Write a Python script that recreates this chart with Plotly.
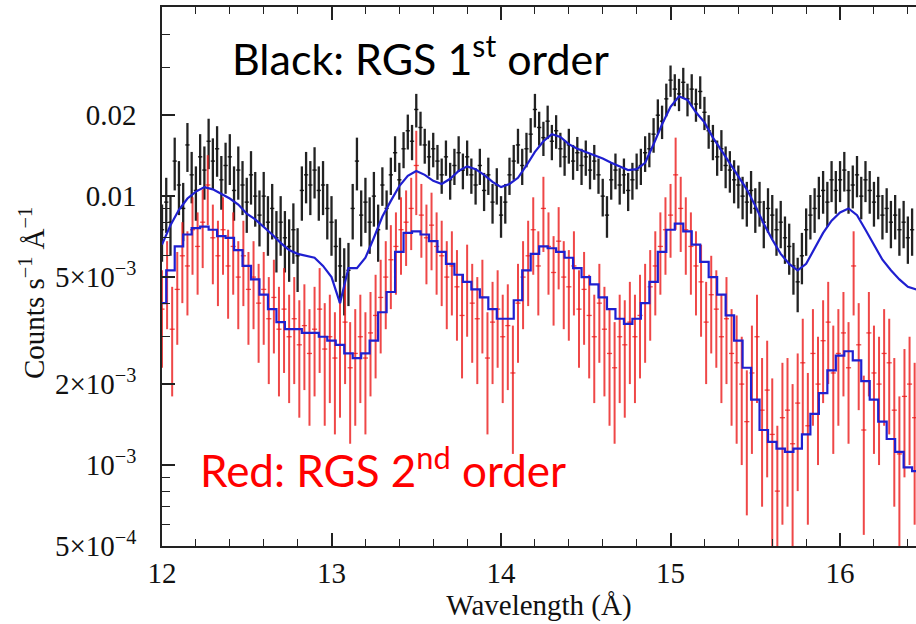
import numpy as np
import plotly.graph_objects as go

UNIT = 1e-3  # all rates below are in units of 1e-3 counts s^-1 A^-1

# ---------------- RGS 1st order (black) ----------------
rgs1_start, rgs1_step = 12.0, 0.025
rgs1_rate = [
    7.5, 9.5, 8.0, 13.5, 11.0, 9.0, 15.5, 12.0, 10.5, 14.0, 12.5, 16.0,
    13.5, 15.0, 11.5, 13.0, 14.0, 10.5, 12.5, 11.0, 9.5, 12.0, 10.0, 8.5,
    10.0, 8.0, 9.0, 7.0, 8.0, 7.0, 6.5, 7.5, 6.0, 10.5, 12.0, 11.0,
    12.5, 10.5, 11.0, 9.0, 8.0, 6.5, 5.5, 5.0, 5.3, 9.0, 13.5, 8.5,
    9.5, 8.0, 10.0, 7.5, 11.0, 9.0, 12.0, 14.5, 11.5, 15.0, 17.5, 16.0,
    21.0, 18.0, 15.5, 14.0, 15.0, 13.5, 12.0, 14.0, 11.5, 13.0, 14.5, 12.5,
    14.0, 12.0, 11.0, 13.0, 10.5, 12.0, 9.5, 11.0, 8.5, 9.5, 12.0, 13.5,
    15.5, 13.0, 15.0, 17.0, 21.0, 18.0, 16.5, 19.0, 16.0, 17.5, 15.0, 14.0,
    15.5, 13.5, 14.5, 13.0, 14.0, 12.5, 13.5, 12.0, 10.0, 8.5, 11.5, 12.5,
    11.0, 12.0, 10.5, 11.5, 12.5, 13.0, 14.5, 15.0, 17.0, 20.0, 19.0, 23.0,
    27.0, 25.0, 24.0, 26.5, 23.0, 25.0, 22.0, 24.5, 20.5, 17.5, 16.0, 14.0,
    15.0, 13.0, 12.5, 11.5, 11.0, 10.0, 9.5, 10.5, 9.0, 9.5, 8.0, 9.0,
    8.5, 7.5, 8.0, 7.0, 6.5, 5.5, 4.8, 6.0, 7.5, 8.5, 9.0, 10.0,
    10.5, 9.5, 11.5, 10.5, 11.5, 12.5, 10.5, 11.0, 12.0, 10.0, 11.5, 10.5,
    9.5, 10.0, 8.5, 9.0, 8.0, 8.5, 7.5, 8.0, 7.0, 7.5,
]
rgs1_err = [
    1.8, 2.2, 2.0, 3.0, 2.5, 2.2, 3.2, 2.6, 2.4, 3.0, 2.8, 3.4,
    2.9, 3.2, 2.6, 2.8, 3.0, 2.4, 2.8, 2.5, 2.2, 2.7, 2.3, 2.0,
    2.3, 2.0, 2.1, 1.8, 2.0, 1.8, 1.7, 1.9, 1.6, 2.4, 2.6, 2.5,
    2.7, 2.4, 2.5, 2.1, 2.0, 1.7, 1.5, 1.4, 1.4, 2.1, 3.0, 2.0,
    2.2, 1.9, 2.3, 1.8, 1.8, 1.5, 1.9, 2.2, 1.8, 2.3, 2.6, 2.4,
    3.0, 2.6, 2.3, 2.1, 2.2, 2.0, 1.8, 2.1, 1.8, 2.0, 2.2, 1.9,
    2.1, 1.8, 1.7, 2.0, 1.7, 1.9, 1.6, 1.7, 1.5, 1.6, 1.9, 2.0,
    2.3, 2.0, 2.2, 2.5, 3.0, 2.6, 2.4, 2.7, 2.4, 2.5, 2.2, 2.1,
    2.3, 2.0, 2.1, 2.0, 2.1, 1.9, 2.0, 1.8, 1.6, 1.5, 1.8, 1.9,
    1.7, 1.8, 1.7, 1.8, 1.9, 2.0, 2.2, 2.2, 2.5, 2.9, 2.7, 3.2,
    3.6, 3.4, 3.3, 3.5, 3.2, 3.4, 3.1, 3.4, 2.9, 2.5, 2.4, 2.1,
    2.6, 2.3, 2.2, 2.1, 2.0, 1.8, 1.8, 1.9, 1.7, 1.8, 1.6, 1.7,
    1.6, 1.5, 1.6, 1.4, 1.4, 1.2, 1.1, 1.3, 1.5, 1.6, 1.7, 1.8,
    1.9, 1.8, 2.0, 1.9, 2.0, 2.1, 1.9, 2.0, 2.1, 1.8, 2.0, 1.9,
    1.8, 1.8, 1.6, 1.7, 1.6, 1.6, 1.5, 1.6, 1.4, 1.5,
]

# ---------------- RGS 2nd order (red) ----------------
rgs2_start, rgs2_step = 12.0, 0.03
rgs2_rate = [
    3.8, 5.0, 3.2, 4.5, 6.0, 5.5, 7.5, 6.5, 8.0, 11.0,
    7.0, 6.0, 7.5, 5.5, 6.5, 5.0, 6.0, 4.5, 5.0, 4.0,
    4.5, 3.5, 4.2, 3.2, 3.8, 3.0, 3.5, 2.8, 3.3, 2.6,
    3.2, 3.8, 2.7, 3.0, 2.5, 2.8, 3.4, 2.3, 2.6, 3.0,
    2.5, 3.1, 3.6, 4.2, 5.0, 5.8, 6.5, 7.5, 8.0, 9.0,
    13.0, 8.5, 7.0, 7.8, 6.5, 6.0, 5.0, 5.5, 4.6, 3.6,
    4.8, 4.0, 3.5, 4.2, 2.5, 3.4, 3.8, 3.0, 3.3, 2.2,
    4.0, 5.0, 6.0, 7.5, 5.5, 9.0, 6.5, 5.2, 6.8, 5.0,
    4.6, 5.5, 3.8, 4.5, 3.6, 3.0, 4.0, 3.2, 2.6, 2.3,
    3.0, 2.8, 3.4, 3.0, 3.6, 4.0, 4.6, 5.5, 6.5, 7.5,
    8.5, 12.0, 9.0, 7.5, 6.5, 5.5, 4.8, 3.4, 4.3, 3.8,
    3.0, 3.5, 2.6, 2.4, 2.0, 1.45, 2.2, 3.0, 1.6, 1.9,
    1.3, 0.8, 1.5, 1.6, 1.2, 1.7, 2.4, 1.4, 2.6, 2.0,
    2.9, 3.4, 2.2, 2.6, 3.1, 2.3, 5.5, 2.8, 1.35, 3.1,
    2.2, 2.0, 2.6, 2.4, 1.6, 1.1, 1.8, 2.0, 1.5,
]
rgs2_err = [
    1.5, 1.8, 1.4, 1.7, 2.0, 1.9, 2.4, 2.2, 2.6, 3.2,
    2.3, 2.1, 2.4, 2.0, 2.2, 1.8, 2.1, 1.7, 1.8, 1.6,
    1.7, 1.5, 1.6, 1.4, 1.6, 1.3, 1.5, 1.3, 1.4, 1.2,
    1.4, 1.6, 1.3, 1.3, 1.2, 1.3, 1.4, 1.1, 1.2, 1.3,
    1.2, 1.3, 1.5, 1.6, 1.8, 2.0, 2.2, 2.4, 2.5, 2.7,
    4.5, 2.6, 2.3, 2.5, 2.2, 2.1, 1.8, 1.9, 1.7, 1.5,
    1.8, 1.6, 1.5, 1.6, 1.2, 1.4, 1.5, 1.3, 1.4, 1.1,
    1.6, 1.8, 2.1, 2.4, 1.9, 2.8, 2.2, 1.9, 2.3, 1.8,
    1.7, 1.9, 1.5, 1.7, 1.5, 1.3, 1.6, 1.4, 1.2, 1.1,
    1.3, 1.3, 1.4, 1.3, 1.5, 1.6, 1.7, 1.9, 2.2, 2.4,
    2.6, 4.5, 2.8, 2.4, 2.2, 1.9, 1.8, 1.4, 1.7, 1.5,
    1.3, 1.5, 1.2, 1.2, 1.0, 0.8, 1.1, 1.3, 0.9, 1.0,
    0.8, 0.6, 0.9, 0.9, 0.8, 0.9, 1.1, 0.8, 1.2, 1.0,
    1.2, 1.4, 1.1, 1.2, 1.3, 1.1, 1.9, 1.2, 0.8, 1.3,
    1.1, 1.0, 1.2, 1.1, 0.9, 0.7, 0.9, 1.0, 0.9,
]

# ---------------- best-fit models (blue) ----------------
model_start, model_step = 12.0, 0.05
model1 = [
    6.6, 7.8, 8.9, 9.8, 10.4, 10.8, 10.6, 10.2, 9.8, 9.3,
    8.6, 8.2, 7.7, 7.2, 6.7, 6.3, 6.1, 6.0, 5.9, 5.5,
    5.0, 4.0, 5.4, 5.4, 5.9, 7.0, 8.4, 9.6, 10.9, 11.9,
    12.4, 12.0, 11.4, 11.1, 11.6, 12.4, 12.9, 12.6, 12.0, 11.3,
    10.8, 11.1, 11.7, 13.0, 14.6, 16.0, 17.0, 16.6, 15.6, 15.0,
    14.6, 14.2, 13.8, 13.3, 12.9, 12.5, 12.6, 13.3, 15.6, 18.5,
    21.5, 23.5, 22.8, 20.5, 18.8, 16.5, 14.8, 13.2, 11.8, 10.6,
    9.2, 7.9, 6.9, 6.1, 5.6, 5.3, 5.6, 6.4, 7.3, 8.1,
    8.7, 9.0, 8.5, 7.5, 6.6, 5.8, 5.3, 4.9, 4.6, 4.5,
]
model2 = [
    4.0, 5.3, 6.5, 7.2, 7.6, 7.7, 7.5, 7.1, 7.0, 6.3,
    5.5, 4.9, 4.3, 3.8, 3.4, 3.2, 3.2, 3.1, 3.1, 3.0,
    2.9, 2.8, 2.6, 2.5, 2.6, 2.9, 3.7, 4.4, 6.2, 7.3,
    7.4, 7.2, 6.8, 6.2, 5.6, 5.1, 4.8, 4.5, 4.2, 3.8,
    3.5, 3.5, 4.1, 5.3, 6.1, 6.5, 6.4, 6.2, 5.9, 5.4,
    5.0, 4.7, 4.2, 3.8, 3.5, 3.35, 3.5, 4.0, 4.8, 6.2,
    7.5, 7.9, 7.4, 6.6, 5.7, 5.0, 4.3, 3.6, 2.9, 2.3,
    1.75, 1.35, 1.22, 1.15, 1.12, 1.15, 1.30, 1.55, 1.85, 2.25,
    2.55, 2.65, 2.45, 2.05, 1.75, 1.45, 1.25, 1.12, 0.98, 0.95,
]

y_tickvals = [5e-4, 1e-3, 2e-3, 5e-3, 0.01, 0.02]
y_ticktext = ["5×10<sup>−4</sup>", "10<sup>−3</sup>", "2×10<sup>−3</sup>",
              "5×10<sup>−3</sup>", "0.01", "0.02"]
y_minorvals = [6e-4, 7e-4, 8e-4, 9e-4, 3e-3, 4e-3, 6e-3, 7e-3, 8e-3, 9e-3, 0.03, 0.04]
x_tickvals = [12, 13, 14, 15, 16]

wl1 = rgs1_start + rgs1_step * np.arange(len(rgs1_rate))
wl2 = rgs2_start + rgs2_step * np.arange(len(rgs2_rate))
wlm = model_start + model_step * np.arange(len(model1))

SERIF = "Liberation Serif, Times New Roman, serif"

fig = go.Figure()
fig.add_trace(go.Scatter(
    x=wl1, y=np.array(rgs1_rate) * UNIT, mode="markers",
    marker=dict(size=1, color="#111111"),
    error_y=dict(type="data", array=np.array(rgs1_err) * UNIT, width=0,
                 thickness=2.3, color="rgba(15,15,15,0.92)"),
    error_x=dict(type="constant", value=rgs1_step / 2, width=0,
                 thickness=1.4, color="rgba(15,15,15,0.92)"),
    showlegend=False, hoverinfo="skip"))
fig.add_trace(go.Scatter(
    x=wl2, y=np.array(rgs2_rate) * UNIT, mode="markers",
    marker=dict(size=1, color="#e82020"),
    error_y=dict(type="data", array=np.array(rgs2_err) * UNIT, width=0,
                 thickness=2.0, color="rgba(235,30,30,0.82)"),
    error_x=dict(type="constant", value=rgs2_step / 2, width=0,
                 thickness=1.3, color="rgba(235,30,30,0.82)"),
    showlegend=False, hoverinfo="skip"))
fig.add_trace(go.Scatter(
    x=wlm, y=np.array(model1) * UNIT, mode="lines",
    line=dict(color="#1f1fd0", width=2.2, shape="linear"),
    showlegend=False, hoverinfo="skip"))
fig.add_trace(go.Scatter(
    x=wlm, y=np.array(model2) * UNIT, mode="lines",
    line=dict(color="#1f1fd0", width=2.2, shape="hvh"),
    showlegend=False, hoverinfo="skip"))

ANNOT_FONT = "Lato, Open Sans, sans-serif"
fig.add_annotation(text="Black: RGS 1<sup>st</sup> order", xref="paper", yref="paper",
                   x=(230 - 162) / 754, y=(546 - 55) / 539, xanchor="left", yanchor="middle",
                   showarrow=False, font=dict(family=ANNOT_FONT, size=43, color="black"))
fig.add_annotation(text="Red: RGS 2<sup>nd</sup> order", xref="paper", yref="paper",
                   x=(198 - 162) / 754, y=(546 - 467) / 539, xanchor="left", yanchor="middle",
                   showarrow=False, font=dict(family=ANNOT_FONT, size=44, color="#ff0000"))
fig.add_annotation(text="Counts s<sup>−1</sup> Å<sup>−1</sup>", xref="paper", yref="paper",
                   x=(32 - 162) / 754, y=(546 - 293) / 539, xanchor="center", yanchor="middle",
                   textangle=-90, showarrow=False, font=dict(family=SERIF, size=29, color="#111111"))

fig.update_layout(
    width=916, height=624,
    margin=dict(l=162, r=0, t=7, b=78),
    paper_bgcolor="white", plot_bgcolor="white",
    font=dict(family=SERIF, size=28, color="#111111"),
    xaxis=dict(range=[12.0, 16.448], tickmode="array", tickvals=x_tickvals,
               ticktext=[str(v) for v in x_tickvals], tickfont=dict(size=29),
               ticks="inside", ticklen=13, tickwidth=1.5, tickcolor="#222",
               showline=True, linecolor="#222", linewidth=1.5, mirror="ticks",
               showgrid=False, zeroline=False, ticklabelstandoff=0,
               minor=dict(dtick=0.2, ticks="inside", ticklen=7, tickwidth=1.3, tickcolor="#222", showgrid=False),
               title=dict(text="Wavelength (Å)", standoff=6, font=dict(size=29))),
    yaxis=dict(type="log", range=[np.log10(5e-4), np.log10(0.0505)],
               tickmode="array", tickvals=y_tickvals, ticktext=y_ticktext, tickfont=dict(size=29),
               ticks="inside", ticklen=13, tickwidth=1.5, tickcolor="#222",
               showline=True, linecolor="#222", linewidth=1.5, mirror=False,
               showgrid=False, zeroline=False, ticklabelstandoff=18,
               minor=dict(tickmode="array", tickvals=y_minorvals, ticks="inside", ticklen=8,
                          tickwidth=1.3, tickcolor="#222", showgrid=False)),
)

fig.write_html("out.html")
